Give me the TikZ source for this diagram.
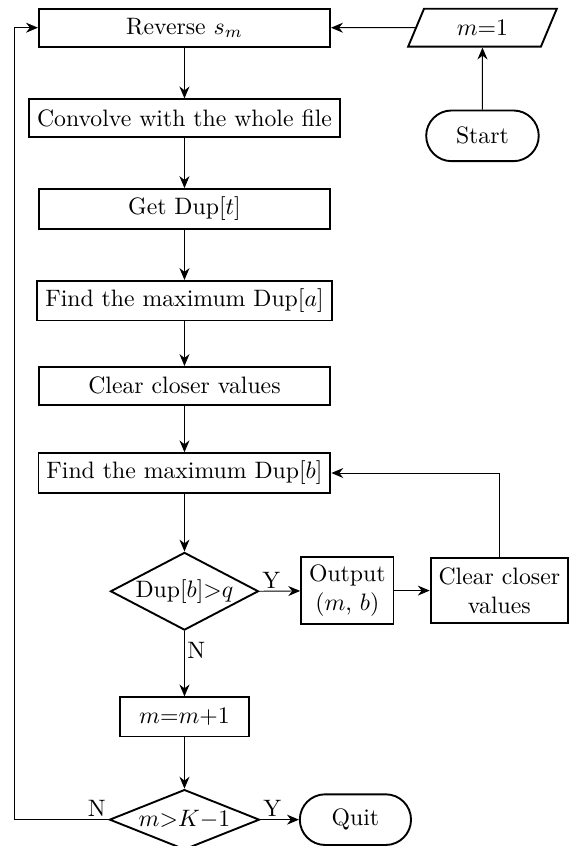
\documentclass[tikz,border=0pt]{standalone}
\usetikzlibrary{shapes.geometric,shapes.misc,arrows.meta}
\begin{document}
\begin{tikzpicture}[>={Stealth[length=5pt,width=4.2pt]},
	box/.style={draw,thick,minimum width=4.31cm,minimum height=0.56cm},
	term/.style={draw,thick,rounded rectangle,minimum width=1.9cm,minimum height=0.75cm},
	test/.style={draw,thick,diamond,inner sep=0pt},
	lab/.style={inner sep=1pt}]
			\useasboundingbox (0,0) rectangle (8.45,-12.52);
			%Bat dau
			\node[term] (start) at (7.14,-2.01) {Start};
			\node[draw,thick,trapezium,trapezium left angle=63,trapezium right angle=117,
				trapezium stretches body,minimum width=2.2cm,minimum height=0.56cm] (m1) at (7.14,-0.41) {$m{=}1$};
			%Cot chinh
			\node[box] (rev) at (2.73,-0.41) {Reverse $s_m$};
			\node[box] (conv) at (2.73,-1.75) {Convolve with the whole file};
			\node[box] (getdup) at (2.73,-3.09) {Get Dup$[t]$};
			\node[box] (finda) at (2.73,-4.45) {Find the maximum Dup$[a]$};
			\node[box] (cleara) at (2.73,-5.71) {Clear closer values};
			\node[box] (findb) at (2.73,-7.00) {Find the maximum Dup$[b]$};
			%Kiem tra 1
			\node[test,aspect=1.9,minimum width=2.19cm,minimum height=1.15cm] (dec1) at (2.73,-8.75) {Dup$[b]{>}q$};
			\node[draw,thick,align=center,minimum width=1.33cm,minimum height=0.96cm] (out) at (5.14,-8.74) {Output\\($m$, $b$)};
			\node[draw,thick,align=center,minimum width=2.01cm,minimum height=0.96cm] (clearb) at (7.39,-8.74) {Clear closer\\values};
			\node[box,minimum width=1.91cm,minimum height=0.58cm] (incm) at (2.73,-10.61) {$m{=}m{+}1$};
			%Kiem tra 2
			\node[test,aspect=2.5,minimum width=2.22cm,minimum height=0.89cm] (dec2) at (2.73,-12.13) {$m{>}K{-}1$};
			\node[term,minimum width=1.88cm] (quit) at (5.26,-12.13) {Quit};
			\coordinate (back) at (0.22,0);
			%Mui ten
			\draw[->] (start) -- (m1);
			\draw[->] (m1) -- (rev);
			\draw[->] (rev) -- (conv);
			\draw[->] (conv) -- (getdup);
			\draw[->] (getdup) -- (finda);
			\draw[->] (finda) -- (cleara);
			\draw[->] (cleara) -- (findb);
			\draw[->] (findb) -- (dec1);
			\draw[->] (dec1.east) -- (out) node[lab,pos=0,above right]{Y};
			\draw[->] (out) -- (clearb);
			\draw[->] (clearb.north) |- (findb.east);
			\draw[->] (dec1.south) -- (incm) node[lab,pos=0.3,right]{N};
			\draw[->] (incm) -- (dec2);
			\draw[->] (dec2.east) -- (quit) node[lab,pos=0,above right]{Y};
			\draw[->] (dec2.west) node[lab,above left]{N} -- (dec2.west -| back) |- (rev.west);
		\end{tikzpicture}
\end{document}
